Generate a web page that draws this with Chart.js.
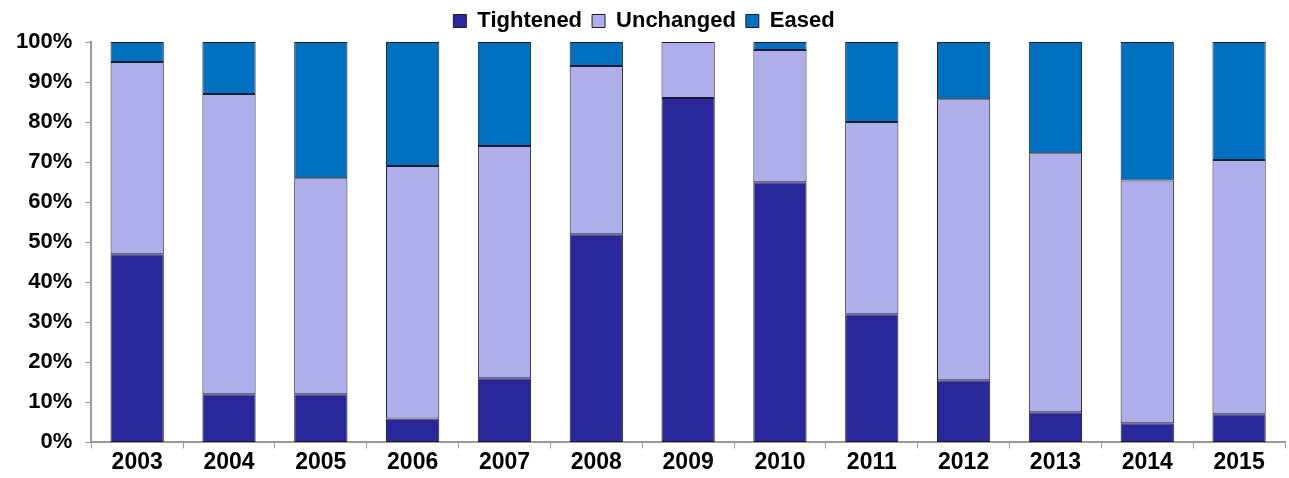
<!DOCTYPE html>
<html lang="en">
<head>
    <meta charset="UTF-8">
    <title>Tightened / Unchanged / Eased</title>
    <script src="https://cdn.jsdelivr.net/npm/chart.js"></script>
    <style>
        body {
            margin: 0;
            background: white;
        }
        #chart {
            display: block;
        }
    </style>
</head>
<body>
    <canvas id="chart" width="1289" height="478"></canvas>

    <script>
        // values, % of respondents
        const years = ['2003', '2004', '2005', '2006', '2007', '2008', '2009', '2010', '2011', '2012', '2013', '2014', '2015'];
        const tightened = [47, 12, 12, 6, 16, 52, 86, 65, 32, 15.5, 7.5, 4.8, 7];
        const unchanged = [48, 75, 54, 63, 58, 42, 14, 33, 48, 70.2, 64.7, 60.6, 63.5];
        const eased = [5, 13, 34, 31, 26, 6, 0, 2, 20, 14.3, 27.8, 34.6, 29.5];

        const font = 'Liberation Sans, Arial, sans-serif';

        new Chart(document.getElementById('chart'), {
            type: 'bar',
            data: {
                labels: years,
                datasets: [
                    { label: 'Tightened', data: tightened, backgroundColor: '#29289a' },
                    { label: 'Unchanged', data: unchanged, backgroundColor: '#adaeea' },
                    { label: 'Eased', data: eased, backgroundColor: '#0070c0' }
                ]
            },
            options: {
                responsive: false,
                animation: false,
                datasets: {
                    bar: {
                        borderColor: '#1c1c2c',
                        borderWidth: 1,
                        borderSkipped: false,
                        categoryPercentage: 1,
                        barPercentage: 0.58
                    }
                },
                layout: {
                    padding: { left: 3, right: 4, top: 0, bottom: 2 }
                },
                plugins: {
                    tooltip: { enabled: false },
                    legend: {
                        position: 'top',
                        labels: {
                            color: '#000',
                            font: { family: font, size: 22, weight: 'bold' },
                            boxWidth: 13,
                            boxHeight: 13,
                            padding: 10
                        }
                    }
                },
                scales: {
                    x: {
                        stacked: true,
                        grid: {
                            drawOnChartArea: false,
                            color: '#999',
                            tickLength: 6
                        },
                        border: { color: '#999', width: 2 },
                        ticks: {
                            color: '#000',
                            padding: 0,
                            font: { family: font, size: 23, weight: 'bold' }
                        }
                    },
                    y: {
                        stacked: true,
                        min: 0,
                        max: 100,
                        grid: {
                            drawOnChartArea: false,
                            color: '#999',
                            tickLength: 6
                        },
                        border: { color: '#999', width: 2 },
                        ticks: {
                            stepSize: 10,
                            color: '#000',
                            padding: 13,
                            font: { family: font, size: 22, weight: 'bold' },
                            callback: v => v + '%'
                        }
                    }
                }
            }
        });
    </script>
</body>
</html>
